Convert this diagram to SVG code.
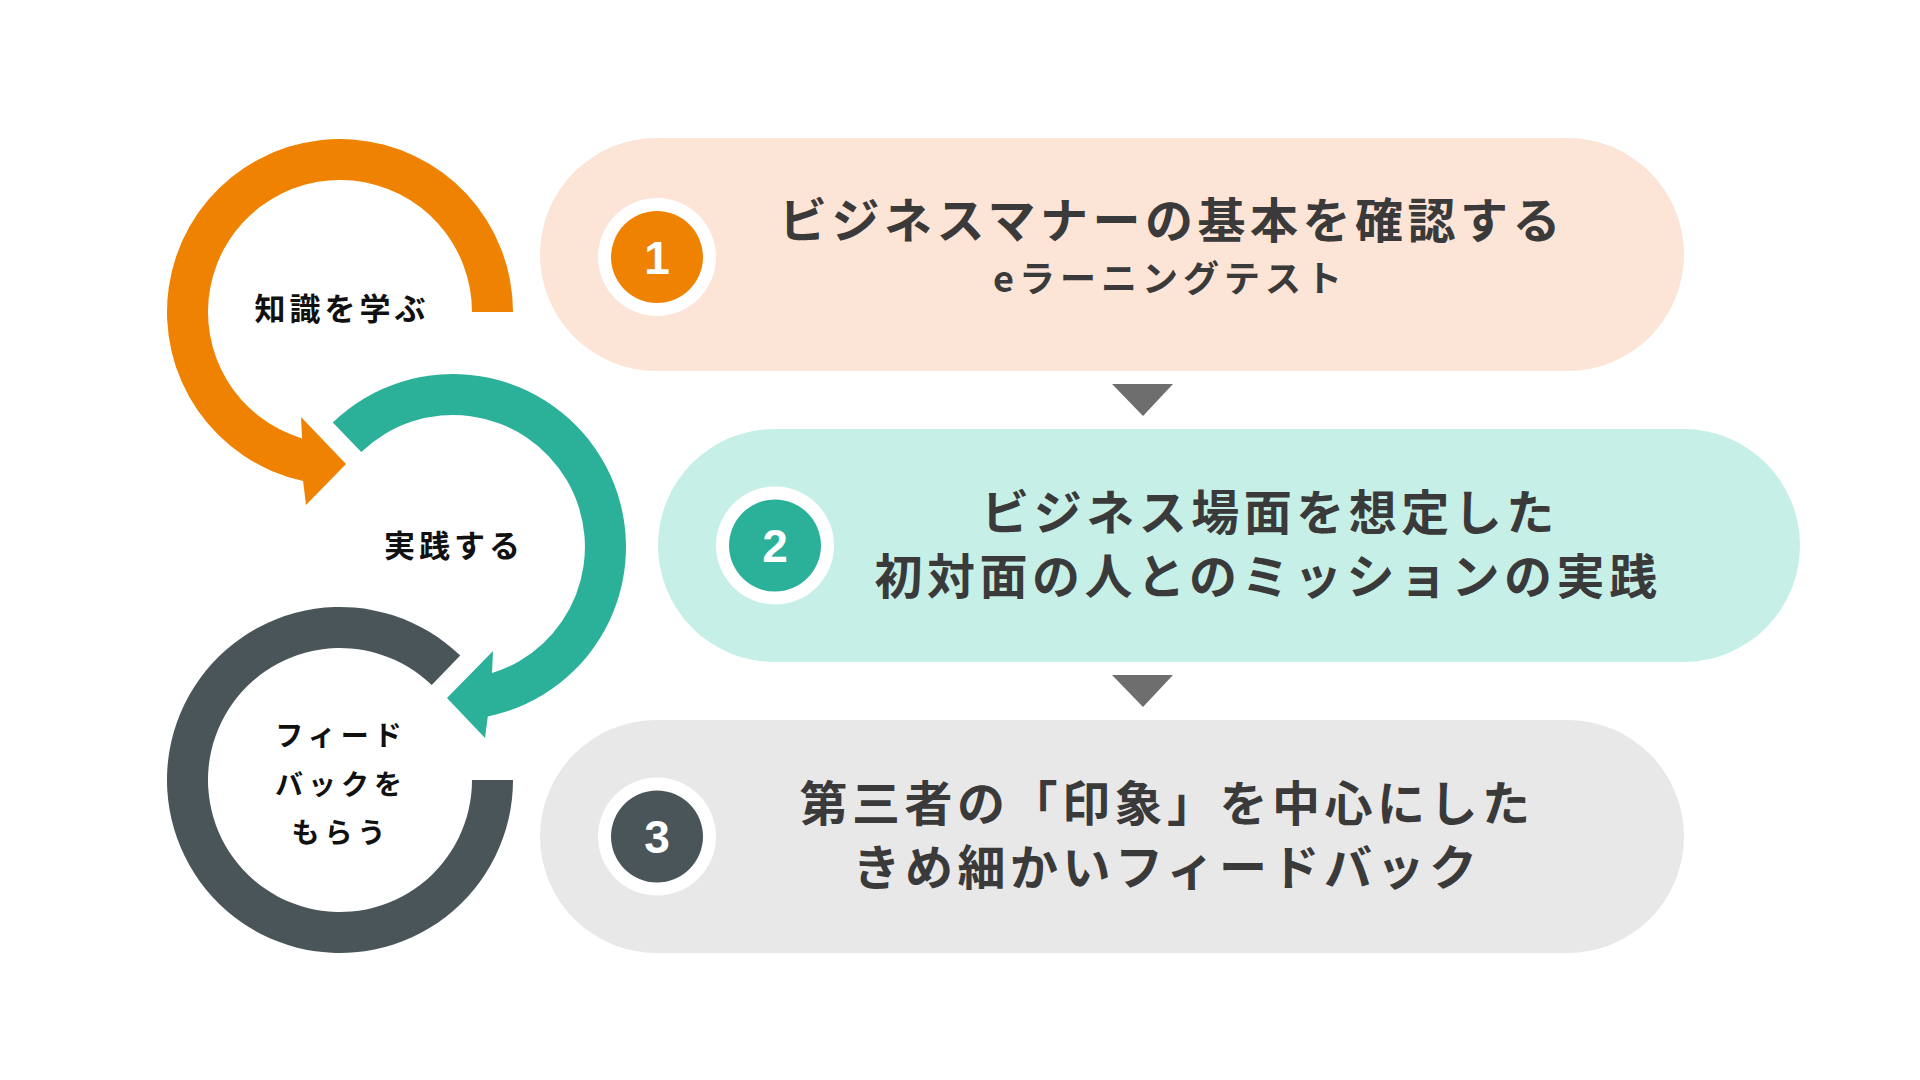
<svg xmlns="http://www.w3.org/2000/svg" width="1920" height="1080" viewBox="0 0 1920 1080">
<style>
.title{font-family:"Noto Sans CJK JP","Noto Sans CJK SC",sans-serif;font-weight:700;font-size:48px;letter-spacing:4.5px;fill:#3a3a3a;text-anchor:middle}
.sub{font-family:"Noto Sans CJK JP","Noto Sans CJK SC",sans-serif;font-weight:700;font-size:36px;letter-spacing:5px;fill:#3a3a3a;text-anchor:middle}
.lbl{font-family:"Noto Sans CJK JP","Noto Sans CJK SC",sans-serif;font-weight:700;font-size:31px;letter-spacing:4px;fill:#111;text-anchor:middle}
.lbl2{font-family:"Noto Sans CJK JP","Noto Sans CJK SC",sans-serif;font-weight:700;font-size:28px;letter-spacing:5px;fill:#111;text-anchor:middle}
.num{font-family:"Liberation Sans",Arial,sans-serif;font-weight:700;font-size:46px;fill:#fff;text-anchor:middle}
.tri{fill:#6e6e6e}
</style>
<rect width="1920" height="1080" fill="#fff"/>
<g id="cycle-learn">
<path d="M513,312 A173,173 0 1 0 303.1,481 L306,505 L346,464 L301,417 L302.1,438.4 A132,132 0 1 1 472,312 Z" fill="#ef8200"/>
<text class="lbl" x="342" y="320">知識を学ぶ</text>
</g>
<g id="cycle-practice">
<path d="M332.8,422.6 A173,173 0 1 1 487.8,716.5 L485,738 L447,698 L493,651 L492,673.1 A132,132 0 1 0 361.3,452 Z" fill="#2bb199"/>
<text class="lbl" x="454" y="557">実践する</text>
</g>
<g id="cycle-feedback">
<path d="M513,780 A173,173 0 1 1 460.2,655.6 L431.7,685.1 A132,132 0 1 0 472,780 Z" fill="#4a5559"/>
<text class="lbl2" x="341" y="746">フィード</text>
<text class="lbl2" x="341" y="795">バックを</text>
<text class="lbl2" x="341" y="843">もらう</text>
</g>
<g id="step1">
<rect x="540" y="138" width="1144" height="233" rx="116.5" fill="#fce4d6"/>
<circle cx="657" cy="257" r="59" fill="#fff"/>
<circle cx="657" cy="257" r="46" fill="#ef8200"/>
<text class="num" x="657" y="274">1</text>
<text class="title" x="1172" y="238">ビジネスマナーの基本を確認する</text>
<text class="sub" x="1170" y="292">eラーニングテスト</text>
</g>
<g id="step2">
<rect x="658" y="429" width="1142" height="233" rx="116.5" fill="#c6f0e7"/>
<circle cx="775" cy="545.5" r="59" fill="#fff"/>
<circle cx="775" cy="545.5" r="46" fill="#2bb199"/>
<text class="num" x="775" y="562">2</text>
<text class="title" x="1270" y="530">ビジネス場面を想定した</text>
<text class="title" x="1268" y="594">初対面の人とのミッションの実践</text>
</g>
<g id="step3">
<rect x="540" y="720" width="1144" height="233" rx="116.5" fill="#e8e8e8"/>
<circle cx="657" cy="836.5" r="59" fill="#fff"/>
<circle cx="657" cy="836.5" r="46" fill="#4a5559"/>
<text class="num" x="657" y="853">3</text>
<text class="title" x="1167" y="821">第三者の「印象」を中心にした</text>
<text class="title" x="1167" y="885">きめ細かいフィードバック</text>
</g>
<g id="connectors">
<polygon class="tri" points="1112,384 1173,384 1143,416"/>
<polygon class="tri" points="1112,675 1173,675 1143,707"/>
</g>
</svg>
